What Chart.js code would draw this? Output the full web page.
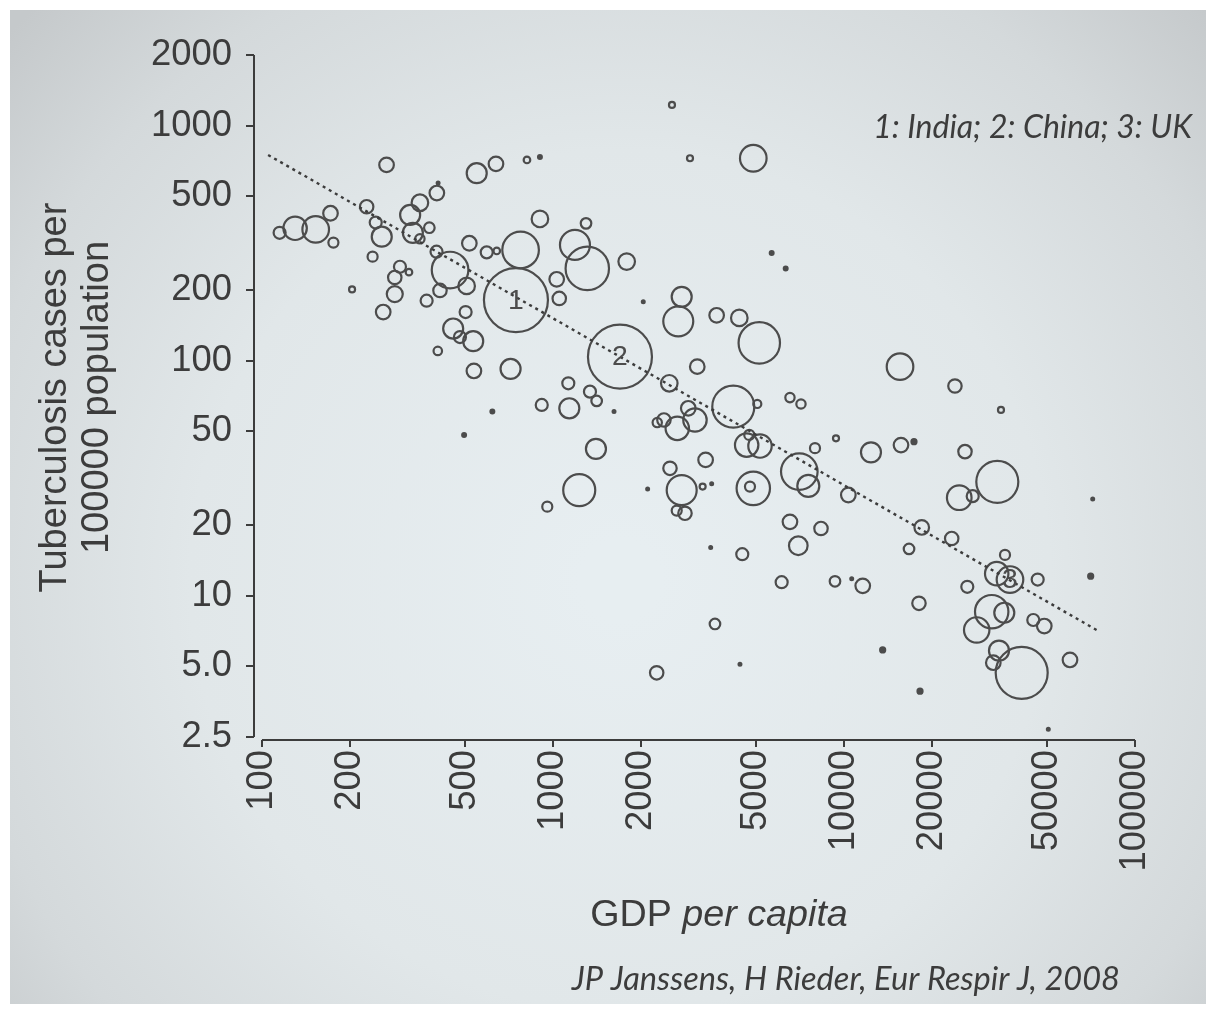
<!DOCTYPE html>
<html>
<head>
<meta charset="utf-8">
<title>Tuberculosis and GDP per capita</title>
<script src="https://cdn.jsdelivr.net/npm/chart.js@4.4.1/dist/chart.umd.min.js"></script>
<style>
  html, body { margin: 0; padding: 0; background: #fff; }
  canvas { display: block; }
</style>
</head>
<body>
<canvas id="myChart" width="1214" height="1012"></canvas>
<script>
// one entry per country: GDP per capita, TB cases per 100000, population (millions, bubble area)
const gdp = [
  115, 130, 153, 172, 176, 204, 229, 246, 258, 240,
  268, 261, 286, 286, 298, 320, 323, 330, 349, 349,
  376, 399, 403, 398, 409, 368, 443, 454, 479, 501,
  505, 516, 532, 535, 402, 495, 547, 592, 619, 637,
  641, 715, 746, 774, 814, 902, 902, 915, 956, 1030,
  1051, 1190, 1299, 1312, 1129, 1138, 1340, 1413, 1405, 1231,
  1621, 1699, 1792, 2043, 2115, 2272, 2564, 2957, 4879, 2769,
  2695, 3651, 4368, 5116, 5643, 6305, 3132, 2510, 4165, 5036,
  6522, 7116, 2917, 3076, 2674, 2406, 2282, 4727, 4630, 5145,
  7950, 9387, 3346, 2524, 2769, 3268, 3510, 2662, 2842, 4879,
  4753, 7022, 7540, 10350, 6522, 8337, 6966, 3483, 4472, 6107,
  9313, 10630, 11600, 3603, 4391, 15580, 24060, 34630, 12380, 15700,
  17400, 26050, 33640, 24890, 27690, 71560, 18500, 23450, 16730, 35750,
  33480, 37190, 46300, 70420, 26530, 18100, 32180, 35550, 28580, 44720,
  48780, 34090, 32590, 40800, 59790, 13580, 18250, 50360
]
const tb = [
  350, 366, 362, 424, 318, 201, 452, 387, 337, 277,
  681, 161, 192, 226, 251, 238, 417, 350, 470, 330,
  368, 517, 571, 291, 199, 180, 243, 137, 126, 161,
  208, 316, 121, 90.4, 110, 48.3, 628, 289, 60.7, 688,
  293, 92.2, 181, 296, 715, 736, 401, 64.8, 23.9, 222,
  184, 311, 384, 247, 80.1, 62.7, 73.8, 67.4, 42.1, 28.1,
  60.7, 104, 264, 178, 28.4, 4.69, 1226, 727, 727, 187,
  147, 156, 152, 119, 287, 247, 94.3, 80.1, 63.7, 65.4,
  69.6, 65.4, 62.7, 55.9, 51.5, 55.9, 54.5, 48.3, 43.7, 43.3,
  42.4, 46.7, 37.8, 34.8, 28.1, 29.1, 29.9, 23.0, 22.4, 28.6,
  29.1, 33.7, 29.3, 26.8, 20.6, 19.3, 16.3, 16.0, 15.0, 11.4,
  11.5, 11.8, 11.0, 7.57, 5.10, 94.3, 78.0, 61.7, 40.7, 43.7,
  45.2, 41.0, 30.5, 26.1, 26.5, 25.8, 19.5, 17.5, 15.8, 14.9,
  12.4, 11.7, 11.7, 12.1, 10.9, 9.27, 8.54, 8.45, 7.14, 7.87,
  7.42, 5.83, 5.18, 4.69, 5.32, 5.87, 3.92, 2.70
]
const population = [
  40, 152, 196, 59, 28, 10, 50, 40, 111, 28,
  59, 59, 71, 50, 40, 12, 111, 111, 76, 24,
  31, 59, 1, 40, 50, 40, 371, 111, 40, 40,
  76, 59, 111, 59, 20, 4, 111, 40, 4, 59,
  12, 111, 1135, 371, 12, 4, 76, 40, 28, 59,
  50, 249, 31, 522, 40, 111, 40, 31, 111, 284,
  1, 1135, 76, 1, 1, 50, 10, 10, 196, 111,
  249, 59, 76, 475, 4, 4, 59, 76, 489, 18,
  24, 24, 59, 152, 152, 50, 24, 28, 152, 152,
  28, 10, 59, 50, 249, 10, 1, 28, 50, 309,
  28, 371, 134, 59, 59, 50, 96, 1, 40, 40,
  31, 1, 59, 31, 1, 196, 50, 10, 111, 59,
  7, 50, 489, 168, 40, 1, 59, 50, 31, 28,
  152, 196, 40, 7, 40, 50, 309, 111, 179, 40,
  59, 111, 59, 749, 59, 7, 7, 1
]

// numbered countries: 1 India, 2 China, 3 UK
const tagIndex = [42, 61, 131]
const tagText = ['1', '2', '3']

// fitted regression line (dotted)
const trendX = [105, 75800]
const trendY = [751, 7.0]

const xTicks = [100, 200, 500, 1000, 2000, 5000, 10000, 20000, 50000, 100000]
const yTicks = [2.5, 5, 10, 20, 50, 100, 200, 500, 1000, 2000]
const yTickLabels = ['2.5', '5.0', '10', '20', '50', '100', '200', '500', '1000', '2000']

const FAMILY = '"Liberation Sans Narrow", "Liberation Sans", Arial, sans-serif'
const NOTE_FAMILY = 'Lato, "Open Sans", sans-serif'
const INK = '#3c3c3c'
const RING = '#4c4c4c'

const probe = document.createElement('canvas').getContext('2d')
function fitSize(text, family, style, width) {
  probe.font = style + ' 100px ' + family
  return 100 * width / probe.measureText(text).width
}
const tickSize = fitSize('2000', FAMILY, '', 81)
const titleSize = fitSize('Tuberculosis cases per', FAMILY, '', 390)

// bubble area follows population; very small countries become solid dots
const points = gdp.map((g, i) => ({ x: g, y: tb[i], r: Math.max(1.4, Math.sqrt(population[i]) * 0.95) }))

const slideBackground = {
  id: 'slideBackground',
  beforeDraw(chart) {
    const { ctx, width, height } = chart
    ctx.save()
    ctx.fillStyle = '#ffffff'
    ctx.fillRect(0, 0, width, height)
    const g = ctx.createRadialGradient(620, 580, 40, 620, 580, 820)
    g.addColorStop(0, '#e7eef1')
    g.addColorStop(0.5, '#e1e7e9')
    g.addColorStop(0.8, '#d4d9db')
    g.addColorStop(1, '#c5c9cb')
    ctx.fillStyle = g
    ctx.fillRect(10, 10, 1196, 994)
    ctx.restore()
  }
}

const axesAndNotes = {
  id: 'axesAndNotes',
  afterDraw(chart) {
    const { ctx, chartArea } = chart
    const x = chart.scales.x
    const y = chart.scales.y
    ctx.save()
    // detached axis lines, first tick to last tick
    ctx.strokeStyle = INK
    ctx.lineWidth = 2
    ctx.beginPath()
    ctx.moveTo(chartArea.left, y.getPixelForValue(yTicks[yTicks.length - 1]))
    ctx.lineTo(chartArea.left, y.getPixelForValue(yTicks[0]))
    ctx.moveTo(x.getPixelForValue(xTicks[0]), chartArea.bottom)
    ctx.lineTo(x.getPixelForValue(xTicks[xTicks.length - 1]), chartArea.bottom)
    ctx.stroke()

    // country numbers inside their bubbles
    ctx.fillStyle = RING
    ctx.font = (tickSize * 0.78).toFixed(1) + 'px ' + FAMILY
    ctx.textAlign = 'center'
    ctx.textBaseline = 'middle'
    tagIndex.forEach((idx, k) => {
      ctx.fillText(tagText[k], x.getPixelForValue(gdp[idx]), y.getPixelForValue(tb[idx]) + 1)
    })

    // x axis title, "per capita" in italics
    ctx.fillStyle = INK
    ctx.textBaseline = 'alphabetic'
    ctx.textAlign = 'left'
    const size = fitSize('GDP per capita', FAMILY, '', 258)
    ctx.font = size.toFixed(1) + 'px ' + FAMILY
    const w1 = ctx.measureText('GDP ').width
    ctx.font = 'italic ' + size.toFixed(1) + 'px ' + FAMILY
    const w2 = ctx.measureText('per capita').width
    const start = 719 - (w1 + w2) / 2
    ctx.font = size.toFixed(1) + 'px ' + FAMILY
    ctx.fillText('GDP ', start, 926)
    ctx.font = 'italic ' + size.toFixed(1) + 'px ' + FAMILY
    ctx.fillText('per capita', start + w1, 926)

    // legend note and source
    const note = '1: India; 2: China; 3: UK'
    ctx.font = 'italic ' + fitSize(note, NOTE_FAMILY, 'italic', 319).toFixed(1) + 'px ' + NOTE_FAMILY
    ctx.textAlign = 'right'
    ctx.fillText(note, 1192, 138)
    const source = 'JP Janssens, H Rieder, Eur Respir J, 2008'
    ctx.font = 'italic ' + fitSize(source, NOTE_FAMILY, 'italic', 548).toFixed(1) + 'px ' + NOTE_FAMILY
    ctx.fillText(source, 1120, 990)
    ctx.restore()
  }
}

const ctx = document.querySelector('#myChart').getContext('2d')

const config = {
  type: 'bubble',
  data: {
    datasets: [
      {
        type: 'line',
        data: trendX.map((v, i) => ({ x: v, y: trendY[i] })),
        borderColor: INK,
        borderWidth: 2.4,
        borderDash: [3, 4],
        pointRadius: 0,
        fill: false
      },
      {
        data: points,
        borderColor: RING,
        backgroundColor: (c) => (c.raw && c.raw.r < 2.7 ? RING : 'rgba(0,0,0,0)'),
        borderWidth: 2.2,
        hoverRadius: 0,
        clip: false
      }
    ]
  },
  plugins: [slideBackground, axesAndNotes],
  options: {
    responsive: false,
    animation: false,
    devicePixelRatio: 1,
    layout: { padding: { left: 0, top: 55, right: 79, bottom: 0 } },
    plugins: {
      legend: { display: false },
      tooltip: { enabled: false }
    },
    scales: {
      x: {
        type: 'logarithmic',
        min: 93.9,
        max: 100000,
        bounds: 'data',
        afterBuildTicks: (s) => { s.ticks = xTicks.map(v => ({ value: v })) },
        afterFit: (s) => { s.height = 1012 - 740 },
        grid: { drawOnChartArea: false, drawTicks: true, tickLength: 7, color: INK, lineWidth: 2 },
        border: { display: false },
        ticks: {
          autoSkip: false,
          minRotation: 90,
          maxRotation: 90,
          padding: 3,
          color: INK,
          font: { family: FAMILY, size: tickSize },
          callback: (v) => String(v)
        }
      },
      y: {
        type: 'logarithmic',
        min: 2.428,
        max: 2000,
        bounds: 'data',
        afterBuildTicks: (s) => { s.ticks = yTicks.map(v => ({ value: v })) },
        afterFit: (s) => { s.width = 254 },
        grid: { drawOnChartArea: false, drawTicks: true, tickLength: 8, color: INK, lineWidth: 2 },
        border: { display: false },
        ticks: {
          padding: 14,
          color: INK,
          font: { family: FAMILY, size: tickSize },
          callback: (v) => yTickLabels[yTicks.indexOf(v)]
        },
        title: {
          display: true,
          text: ['Tuberculosis cases per', '100000 population'],
          color: INK,
          font: { family: FAMILY, size: titleSize, lineHeight: '42px' },
          padding: { top: 34, bottom: 0 }
        }
      }
    }
  }
}

const myChart = new Chart(ctx, config)
</script>
</body>
</html>
